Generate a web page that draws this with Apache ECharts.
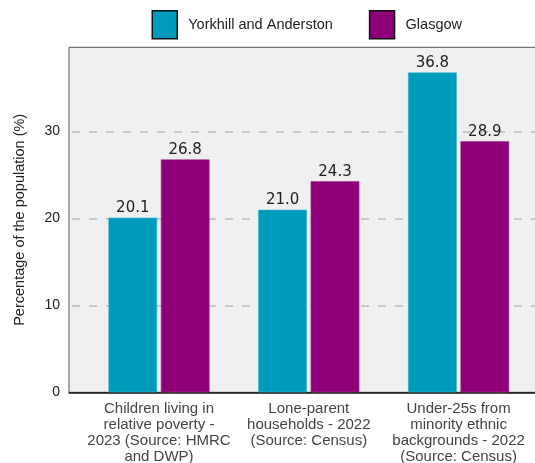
<!DOCTYPE html>
<html>
<head>
<meta charset="utf-8">
<script src="https://cdn.jsdelivr.net/npm/echarts@6/dist/echarts.min.js"></script>
<style>
html,body{margin:0;padding:0;background:#fff;}
#chart{width:535px;height:463px;}
</style>
</head>
<body>
<div id="chart"></div>
<script>
const categories = [
  "Children living in\nrelative poverty -\n2023 (Source: HMRC\nand DWP)",
  "Lone-parent\nhouseholds - 2022\n(Source: Census)",
  "Under-25s from\nminority ethnic\nbackgrounds - 2022\n(Source: Census)"
];
const seriesNames = ["Yorkhill and Anderston", "Glasgow"];
const yorkhillValues = [20.1, 21.0, 36.8];
const glasgowValues = [26.8, 24.3, 28.9];
const yTicks = [0, 10, 20, 30];
const yMax = 39.7;

const chart = echarts.init(document.getElementById('chart'), null, {renderer: 'canvas'});
const labelStyle = {
  show: true, position: 'top', distance: 2,
  fontFamily: 'DejaVu Sans', fontSize: 15, color: '#222',
  formatter: p => p.value.toFixed(1)
};
chart.setOption({
  animation: false,
  legend: {
    data: seriesNames,
    left: 151.5, top: 10, padding: 0,
    itemWidth: 25, itemHeight: 28, itemGap: 36,
    icon: 'rect',
    textStyle: {fontFamily: 'Liberation Sans', fontSize: 14.5, color: '#222', padding: [0,0,0,6]},
    itemStyle: {borderColor: '#111', borderWidth: 1.5}
  },
  grid: [
    {left: 69, right: -13, top: 47.3, bottom: 70.7, show: true, containLabel: false,
     outerBoundsMode: 'none',
     backgroundColor: '#f0f0f0', borderColor: '#555', borderWidth: 1},
    {left: 84.1, right: 1.5, top: 47.3, bottom: 70.7, containLabel: false,
     outerBoundsMode: 'none'}
  ],
  xAxis: [
    {gridIndex: 0, type: 'value', min: 0, max: 1,
     axisLine: {show: true, lineStyle: {color: '#111', width: 1.5}},
     axisTick: {show: false}, axisLabel: {show: false}, splitLine: {show: false}},
    {gridIndex: 1, type: 'category', data: categories,
     axisLine: {show: false}, axisTick: {show: false},
     axisLabel: {margin: 8, fontFamily: 'Liberation Sans', fontSize: 15,
                 lineHeight: 16.2, color: '#444', interval: 0}}
  ],
  yAxis: [
    {gridIndex: 0, type: 'value', min: 0, max: yMax, interval: 10,
     name: 'Percentage of the population (%)', nameLocation: 'middle', nameGap: 42,
     nameTextStyle: {fontFamily: 'Liberation Sans', fontSize: 14.5, color: '#222'},
     axisLine: {show: false}, axisTick: {show: false},
     axisLabel: {margin: 9, fontFamily: 'Liberation Sans', fontSize: 14, color: '#222',
                 showMaxLabel: false,
                 formatter: v => yTicks.includes(v) ? String(v) : ''},
     splitLine: {show: true, showMinLine: false, showMaxLine: false,
                 lineStyle: {color: '#c8c8c8', width: 2, type: [8, 9], dashOffset: -3}}},
    {gridIndex: 1, type: 'value', min: 0, max: yMax, interval: 10, show: false,
     splitLine: {show: false}}
  ],
  series: [
    {name: seriesNames[0], type: 'bar', xAxisIndex: 1, yAxisIndex: 1,
     data: yorkhillValues, barWidth: 48.7, barGap: '7.6%',
     itemStyle: {color: '#009bbb', borderColor: '#33b3cc', borderWidth: 0.6},
     label: labelStyle},
    {name: seriesNames[1], type: 'bar', xAxisIndex: 1, yAxisIndex: 1,
     data: glasgowValues, barWidth: 48.7, barGap: '7.6%',
     itemStyle: {color: '#8d0077', borderColor: '#a33390', borderWidth: 0.6},
     label: labelStyle}
  ]
});
</script>
</body>
</html>
